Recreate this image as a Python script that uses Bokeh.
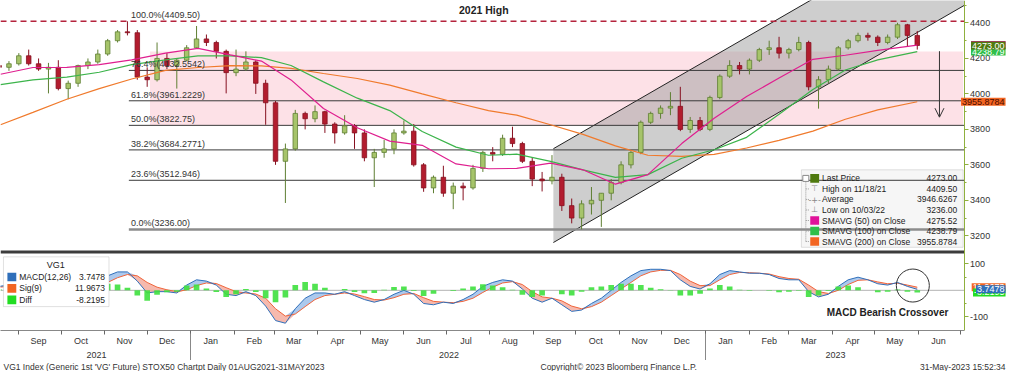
import numpy as np
import pandas as pd
from bokeh.plotting import figure
from bokeh.models import (Range1d, LinearAxis, FixedTicker, Label, Arrow,
                          OpenHead, BoxAnnotation, ColumnDataSource)
from bokeh.layouts import column
from bokeh.embed import file_html
from bokeh.resources import INLINE

# ---------------------------------------------------------------- data
week_start = pd.date_range("2021-08-16", "2023-05-29", freq="7D")   # weekly bars (Mon)

opens = [4160, 4150, 4170, 4215, 4170, 4140, 4150, 4030, 4060, 4160,
         4180, 4225, 4300, 4350, 4345, 4095, 4080, 4200, 4160, 4190,
         4260, 4310, 4290, 4240, 4120, 4140, 4180, 4060, 3950, 3620,
         3690, 3890, 3860, 3900, 3830, 3780, 3820, 3780, 3640, 3670,
         3690, 3780, 3790, 3600, 3470, 3530, 3440, 3480, 3470, 3580,
         3670, 3660, 3750, 3720, 3620, 3520, 3510, 3530, 3370, 3300,
         3380, 3400, 3440, 3500, 3600, 3670, 3840, 3890, 3920, 3930,
         3800, 3850, 3800, 3980, 4100, 4160, 4140, 4190, 4250, 4260,
         4230, 4250, 4290, 4040, 4080, 4140, 4260, 4300, 4330, 4320,
         4290, 4320, 4390, 4330]
highs = [4175, 4185, 4230, 4250, 4200, 4175, 4190, 4075, 4165, 4200,
         4250, 4310, 4360, 4409.5, 4360, 4150, 4290, 4230, 4200, 4275,
         4383, 4335, 4300, 4250, 4250, 4240, 4190, 4080, 3960, 3720,
         3910, 3900, 3935, 3905, 3840, 3880, 3830, 3800, 3690, 3740,
         3800, 3850, 3830, 3610, 3540, 3595, 3500, 3500, 3600, 3680,
         3700, 3770, 3815, 3730, 3640, 3560, 3655, 3550, 3410, 3400,
         3475, 3440, 3520, 3620, 3680, 3850, 3900, 3935, 4010, 4040,
         3870, 3870, 3990, 4110, 4190, 4180, 4200, 4260, 4300, 4322,
         4260, 4322, 4300, 4100, 4160, 4270, 4310, 4345, 4345, 4330,
         4335, 4401, 4395, 4355]
lows = [4120, 4130, 4160, 4160, 4130, 4003, 4020, 3970, 4040, 4140,
        4170, 4215, 4290, 4330, 4080, 4040, 4070, 4140, 4030, 4185,
        4255, 4270, 4200, 4003, 4100, 4130, 4000, 3826, 3600, 3385,
        3680, 3800, 3840, 3780, 3720, 3770, 3690, 3620, 3475, 3640,
        3660, 3770, 3590, 3448, 3440, 3420, 3350, 3400, 3460, 3560,
        3620, 3650, 3700, 3610, 3480, 3450, 3490, 3340, 3270, 3236,
        3320, 3250, 3400, 3490, 3580, 3660, 3830, 3860, 3880, 3790,
        3780, 3790, 3790, 3970, 4090, 4110, 4110, 4180, 4220, 4200,
        4200, 4240, 4020, 3917, 4060, 4130, 4250, 4290, 4300, 4270,
        4280, 4310, 4265, 4250]
closes = [4150, 4170, 4215, 4170, 4140, 4150, 4030, 4060, 4160, 4180,
          4225, 4300, 4350, 4345, 4095, 4080, 4200, 4160, 4190, 4260,
          4310, 4290, 4240, 4120, 4140, 4180, 4060, 3950, 3620, 3690,
          3890, 3860, 3900, 3830, 3780, 3820, 3780, 3640, 3670, 3690,
          3780, 3790, 3600, 3470, 3530, 3440, 3480, 3470, 3580, 3670,
          3660, 3750, 3720, 3620, 3520, 3510, 3530, 3370, 3300, 3380,
          3400, 3440, 3500, 3600, 3670, 3840, 3890, 3920, 3930, 3800,
          3850, 3800, 3980, 4100, 4160, 4140, 4190, 4250, 4260, 4230,
          4250, 4290, 4040, 4080, 4140, 4260, 4300, 4330, 4320, 4290,
          4320, 4390, 4330, 4273]

macd = [15, 20, 30, 25, 10, -15, -25, -30, -5, 15,
        35, 55, 70, 70, 35, -10, -5, -5, -10, 20,
        40, 35, 20, -15, -20, -5, -20, -60, -115, -125,
        -70, -30, -10, -10, -15, -5, -20, -35, -45, -35,
        -15, 0, -15, -50, -55, -45, -50, -35, -15, 15,
        30, 40, 35, 5, -30, -45, -30, -55, -80, -75,
        -50, -30, 0, 30, 55, 75, 80, 80, 75, 40,
        15, 5, 25, 60, 75, 70, 65, 65, 60, 45,
        40, 40, -5, -25, -15, 15, 40, 50, 40, 25,
        20, 30, 15, 3.7478]
signal = [12, 15, 20, 25, 20, 8, -8, -20, -18, -5,
          12, 30, 48, 60, 55, 30, 12, 2, -5, 2,
          18, 28, 26, 10, -5, -10, -14, -30, -70, -98,
          -90, -62, -35, -20, -15, -10, -14, -24, -35, -37,
          -28, -15, -12, -28, -42, -45, -47, -42, -30, -8,
          12, 28, 33, 22, -5, -25, -30, -40, -60, -70,
          -62, -45, -20, 5, 30, 55, 70, 76, 76, 60,
          35, 18, 18, 40, 60, 68, 67, 65, 62, 52,
          45, 42, 20, -5, -12, 0, 22, 38, 40, 32,
          25, 27, 20, 11.9673]

sma_dates = ["2021-08-19", "2021-09-11", "2021-10-05", "2021-10-28", "2021-11-20",
             "2021-12-14", "2022-01-06", "2022-01-29", "2022-02-20", "2022-03-13",
             "2022-04-05", "2022-04-29", "2022-05-22", "2022-06-14", "2022-07-08",
             "2022-07-31", "2022-08-20", "2022-09-13", "2022-10-06", "2022-10-29",
             "2022-11-21", "2022-12-15", "2023-01-07", "2023-01-30", "2023-02-22",
             "2023-03-18", "2023-04-10", "2023-05-03", "2023-05-31"]
sma50 = [4111, 4149, 4150, 4165, 4192, 4230, 4257, 4220, 4185, 4079,
         3918, 3809, 3734, 3710, 3605, 3578, 3580, 3610, 3572, 3491,
         3545, 3720, 3863, 3985, 4090, 4195, 4218, 4246, 4275.52]
sma100 = [4052, 4079, 4095, 4122, 4165, 4192, 4214, 4214, 4205, 4160,
          4068, 3976, 3906, 3788, 3700, 3654, 3660, 3620, 3572, 3529,
          3545, 3637, 3685, 3755, 3885, 4025, 4135, 4192, 4238.79]
sma200 = [3826, 3896, 3970, 4030, 4084, 4133, 4149, 4160, 4158, 4144,
          4115, 4087, 4050, 4000, 3950, 3906, 3880, 3826, 3772, 3707,
          3654, 3648, 3659, 3695, 3738, 3790, 3857, 3910, 3955.8784]

fib_pcts = [1.0, 0.764, 0.618, 0.5, 0.382, 0.236, 0.0]
fib_labels = ["100.0%(4409.50)", "76.4%(4132.5542)", "61.8%(3961.2229)", "50.0%(3822.75)",
              "38.2%(3684.2771)", "23.6%(3512.946)", "0.0%(3236.00)"]
high_date = "2021-11-18"
low_date = "2022-10-03"
avg_price = 3946.6267
month_labels = ["Sep", "Oct", "Nov", "Dec", "Jan", "Feb", "Mar", "Apr", "May", "Jun", "Jul",
                "Aug", "Sep", "Oct", "Nov", "Dec", "Jan", "Feb", "Mar", "Apr", "May", "Jun"]
year_labels = ["2021", "2022", "2023"]
price_ticks = [3200, 3400, 3600, 3800, 4000, 4200, 4400]
macd_ticks = [100, -100]

# annotations drawn by the analyst
band_start, band_top = "2021-12-03", 4239
channel_start, channel_lower0, channel_upper0, channel_slope = "2022-09-15", 3162, 3691, 4.59

# ---------------------------------------------------------------- layout helpers
FONT = "Liberation Sans"
ORIGIN = pd.Timestamp("2021-08-19")
def dday(d):
    return (pd.Timestamp(d) - ORIGIN).days
def rx(px):   # reference pixel -> day offset
    return px / 1.43
def ry(px):   # reference pixel -> price
    return 4400 - (px - 23.5) / 0.1854
def rm(px):   # reference pixel -> macd value
    return (303 - px) / 0.275

XE = rx(977)          # right edge of the drawing area (axis position)
FW, FH = 1008, 330
p = figure(frame_width=FW, frame_height=FH,
           x_range=Range1d(rx(0), rx(1022)), y_range=Range1d(ry(345), ry(0)),
           y_axis_location="right", toolbar_location=None, output_backend="svg",
           min_border_left=0, min_border_top=0, min_border_right=0, min_border_bottom=0,
           outline_line_color=None, background_fill_color="white", border_fill_color="white")
p.extra_y_ranges = {"macd": Range1d(rm(345), rm(0))}
p.xgrid.visible = False
p.ygrid.visible = False

hi = max(highs)
lo = min(lows)
fib_levels = [lo + f * (hi - lo) for f in fib_pcts]

# pink zone
p.add_layout(BoxAnnotation(left=dday(band_start), right=rx(976), top=band_top, bottom=fib_levels[3],
                           fill_color="#fde1e7", fill_alpha=1.0, line_color=None, level="underlay"))

# main legend box (under the lines, as in the original)
p.add_layout(BoxAnnotation(left=rx(812), right=rx(976), top=ry(177), bottom=ry(258),
                           fill_color="#f6f6f6", fill_alpha=1.0, line_color="#9a9a9a",
                           level="underlay"))

# trend channel
cx0, cx1 = dday(channel_start), XE
dy = channel_slope * (cx1 - cx0)
p.patch([cx0, cx0, cx1, cx1],
        [channel_upper0, channel_lower0, channel_lower0 + dy, channel_upper0 + dy],
        fill_color="#9e9e9e", fill_alpha=0.5, line_color=None)
p.line([cx0, cx1], [channel_upper0, channel_upper0 + dy], line_color="#222222", line_width=1)
p.line([cx0, cx1], [channel_lower0, channel_lower0 + dy], line_color="#222222", line_width=1)

# fibonacci levels
fx0 = dday(high_date)
for lev, lbl, pct in zip(fib_levels, fib_labels, fib_pcts):
    if pct == 0.0:
        p.segment(x0=[fx0], y0=[lev], x1=[XE], y1=[lev], line_color="#8c8c8c", line_width=2.5)
    elif pct != 1.0:
        p.segment(x0=[fx0], y0=[lev], x1=[XE], y1=[lev], line_color="#3a3a3a", line_width=1)
    p.add_layout(Label(x=fx0 + 1.5, y=lev + 1.2 / 0.1854, text=lbl, text_font=FONT,
                       text_font_size="9px", text_color="#333333", text_baseline="bottom",
                       text_align="left"))

# candles
wk = np.array([dday(d) for d in week_start]) + 2
o, h, l, c = map(np.array, (opens, highs, lows, closes))
up = c >= o
src = ColumnDataSource(dict(x=wk, h=h, l=l, top=np.maximum(o, c), bot=np.minimum(o, c),
                            fill=np.where(up, "#a6c46a", "#b21c2e"),
                            line=np.where(up, "#5f7f33", "#861020")))
p.segment(x0="x", y0="l", x1="x", y1="h", line_color="line", line_width=1, source=src)
p.vbar(x="x", width=3.2, top="top", bottom="bot", fill_color="fill", line_color="line",
       line_width=0.8, source=src)

# moving averages
sx = [dday(d) for d in sma_dates]
p.line(sx, sma200, line_color="#f07a2c", line_width=1.2)
p.line(sx, sma100, line_color="#3cb44b", line_width=1.2)
p.line(sx, sma50, line_color="#df1f8f", line_width=1.2)

# 2021 high dashed line
p.segment(x0=[rx(0)], y0=[hi], x1=[XE], y1=[hi], line_color="#b4233c", line_dash="6 4",
          line_width=1.6)
p.add_layout(Label(x=rx(490), y=ry(10), text="2021 High", text_font=FONT, text_font_size="10.5px",
                   text_font_style="bold", text_color="#222222", text_align="center",
                   text_baseline="middle"))

# down arrow
p.add_layout(Arrow(end=OpenHead(size=9, line_color="#333333", line_width=1),
                   x_start=rx(952), y_start=ry(53), x_end=rx(952), y_end=ry(122),
                   line_color="#333333", line_width=1))

# panel separator
p.segment(x0=[rx(0)], y0=[ry(263)], x1=[XE], y1=[ry(263)], line_color="#3c3c3c", line_width=3)

# ---------------------------------------------------------------- MACD panel
m = np.array(macd, dtype=float)
s = np.array(signal, dtype=float)
diff = m - s
p.segment(x0=[rx(0)], y0=[0], x1=[XE], y1=[0], line_color="#b4b4b4", line_width=1,
          y_range_name="macd")
p.varea(x=wk, y1=s, y2=np.maximum(m, s), fill_color="#9dc0ea", fill_alpha=0.85, y_range_name="macd")
p.varea(x=wk, y1=np.minimum(m, s), y2=s, fill_color="#f5ad9f", fill_alpha=0.85, y_range_name="macd")
p.line(wk, s, line_color="#f0643a", line_width=1, y_range_name="macd")
p.line(wk, m, line_color="#2f6fba", line_width=1, y_range_name="macd")
p.vbar(x=wk, top=diff, bottom=0, width=4, fill_color="#3ee03e", line_color=None,
       fill_alpha=0.9, y_range_name="macd")

p.scatter(x=[rx(925)], y=[rm(298)], size=33, marker="circle", fill_color=None,
          line_color="#333333", line_width=1, y_range_name="macd")
p.add_layout(Label(x=rx(961), y=rm(326), text="MACD Bearish Crossover", text_font=FONT,
                   text_font_size="10px", text_font_style="bold", text_color="#222222",
                   text_align="right", text_baseline="middle", y_range_name="macd"))

# MACD legend
p.add_layout(BoxAnnotation(left=rx(3), right=rx(110), top=rm(268), bottom=rm(320),
                           fill_color="white", fill_alpha=1.0, line_color="#999999",
                           y_range_name="macd"))
p.add_layout(Label(x=rx(56), y=rm(277), text="VG1", text_font=FONT, text_font_size="9px",
                   text_color="#222222", text_align="center", text_baseline="middle",
                   y_range_name="macd"))
mleg = [("MACD(12,26)", f"{m[-1]:.4f}", "#2f6fba", 289),
        ("Sig(9)", f"{s[-1]:.4f}", "#f26522", 301),
        ("Diff", f"{diff[-1]:.4f}", "#22dd22", 313)]
for name, val, col, yy in mleg:
    p.add_layout(BoxAnnotation(left=rx(7), right=rx(16), top=rm(yy - 4.5), bottom=rm(yy + 4.5),
                               fill_color=col, fill_alpha=1.0, line_color=None, y_range_name="macd"))
    p.add_layout(Label(x=rx(19), y=rm(yy), text=name, text_font=FONT, text_font_size="8.5px",
                       text_color="#222222", text_baseline="middle", y_range_name="macd"))
    p.add_layout(Label(x=rx(106), y=rm(yy), text=val, text_font=FONT, text_font_size="8.5px",
                       text_color="#222222", text_align="right", text_baseline="middle",
                       y_range_name="macd"))

# ---------------------------------------------------------------- main legend
rows = [186, 197, 208, 219, 230, 241, 252]
p.segment(x0=[rx(816.5)], y0=[ry(186)], x1=[rx(816.5)], y1=[ry(252)],
          line_color="#9a9a9a", line_width=1, line_dash="1 1")
for yy in rows[1:]:
    p.segment(x0=[rx(816.5)], y0=[ry(yy)], x1=[rx(820)], y1=[ry(yy)], line_color="#9a9a9a",
              line_width=1, line_dash="1 1")
p.scatter(x=[rx(816.5)], y=[ry(186)], size=6, marker="square", fill_color="white",
          line_color="#8a8a8a")
hd = pd.Timestamp(high_date).strftime("%m/%d/%y")
ld = pd.Timestamp(low_date).strftime("%m/%d/%y")
legend_rows = [("box", "#4f7a0f", "Last Price", f"{closes[-1]:.2f}"),
               ("sym", "\u22a4", f"High on {hd}", f"{hi:.2f}"),
               ("sym", "-+-", "Average", f"{avg_price:.4f}"),
               ("sym", "\u22a5", f"Low on {ld}", f"{lo:.2f}"),
               ("box", "#e0139a", "SMAVG (50)  on Close", f"{sma50[-1]:.2f}"),
               ("box", "#2fbf4a", "SMAVG (100)  on Close", f"{sma100[-1]:.2f}"),
               ("box", "#f26522", "SMAVG (200)  on Close", f"{sma200[-1]:.4f}")]
for (kind, key, name, val), yy in zip(legend_rows, rows):
    if kind == "box":
        p.add_layout(BoxAnnotation(left=rx(821), right=rx(830), top=ry(yy - 4.5), bottom=ry(yy + 4.5),
                                   fill_color=key, fill_alpha=1.0, line_color=None))
    else:
        p.add_layout(Label(x=rx(825.5), y=ry(yy), text=key, text_font="DejaVu Sans",
                           text_font_size="8px", text_color="#888888", text_align="center",
                           text_baseline="middle"))
    p.add_layout(Label(x=rx(833), y=ry(yy), text=name, text_font=FONT, text_font_size="8.5px",
                       text_color="#222222", text_baseline="middle"))
    p.add_layout(Label(x=rx(970), y=ry(yy), text=val, text_font=FONT, text_font_size="8.5px",
                       text_color="#222222", text_align="right", text_baseline="middle"))

# ---------------------------------------------------------------- axes
def m2p(v):
    return int(round(ry(303 - 0.275 * v)))

ya = p.yaxis[0]
ya.fixed_location = XE
macd_pos = [m2p(v) for v in macd_ticks]
ya.ticker = FixedTicker(ticks=price_ticks + macd_pos,
                        minor_ticks=[3300, 3500, 3700, 3900, 4100, 4300, 4500, m2p(50), m2p(-50)])
ya.major_label_overrides = {pos: str(v) for pos, v in zip(macd_pos, macd_ticks)}
ya.axis_line_color = "#8fb03e"
ya.major_tick_line_color = "#8fb03e"
ya.minor_tick_line_color = "#8fb03e"
ya.major_tick_out, ya.major_tick_in = 4, 0
ya.minor_tick_out, ya.minor_tick_in = 2, 0
ya.major_label_text_font = FONT
ya.major_label_text_font_size = "9px"
ya.major_label_text_color = "#333333"
ya.major_label_standoff = 2

# value tags next to the axis
def tag(yv, text, bg, fg, rng="default"):
    p.add_layout(Label(x=rx(1019), y=yv, text=text, text_font=FONT, text_font_size="9px",
                       text_color=fg, background_fill_color=bg, text_align="right",
                       text_baseline="middle", padding=1, y_range_name=rng))

tag(sma50[-1], f"{sma50[-1]:.2f}", "#e0139a", "white")
tag(sma100[-1], f"{sma100[-1]:.2f}", "#2fbf4a", "white")
tag(closes[-1], f"{closes[-1]:.2f}", "#4f7a0f", "white")
tag(sma200[-1], f"{sma200[-1]:.4f}", "#f26522", "#4a0a00")
tag(s[-1], f"{s[-1]:.4f}", "#f26522", "white", "macd")
tag(diff[-1], f"{diff[-1]:.4f}", "#22dd22", "white", "macd")
tag(m[-1], f"{m[-1]:.4f}", "#2f6fba", "white", "macd")

month_start = [dday(d) for d in pd.date_range("2021-09-01", "2023-07-01", freq="MS")]
month_mid = [v + 14 for v in month_start[:-1]]
xa = p.xaxis[0]
xa.bounds = (rx(0), XE)
xa.ticker = FixedTicker(ticks=month_mid, minor_ticks=month_start)
xa.major_label_overrides = dict(zip(month_mid, month_labels))
xa.major_tick_line_color = None
xa.major_tick_out, xa.major_tick_in = 0, 0
xa.minor_tick_line_color = "#666666"
xa.minor_tick_out, xa.minor_tick_in = 4, 0
xa.axis_line_color = "#888888"
xa.major_label_standoff = 1
xa.major_label_text_font = FONT
xa.major_label_text_font_size = "9px"
xa.major_label_text_color = "#333333"

year_start = [dday("2022-01-01"), dday("2023-01-01")]
edges = [rx(0)] + year_start + [XE]
year_mid = [int(round((a + b) / 2)) for a, b in zip(edges[:-1], edges[1:])]
yr = LinearAxis(ticker=FixedTicker(ticks=year_mid, minor_ticks=year_start),
                major_label_overrides=dict(zip(year_mid, year_labels)),
                axis_line_color=None, major_tick_line_color=None,
                major_tick_out=0, major_tick_in=0,
                minor_tick_line_color="#888888", minor_tick_in=15, minor_tick_out=12,
                major_label_standoff=-9, major_label_text_font=FONT,
                major_label_text_font_size="9px", major_label_text_color="#333333")
p.add_layout(yr, "below")

# ---------------------------------------------------------------- footer
f = figure(width=FW, height=11, x_range=Range1d(0, FW), y_range=Range1d(0, 1),
           toolbar_location=None, output_backend="svg", min_border=0,
           outline_line_color=None, x_axis_location=None, y_axis_location=None)
f.xgrid.visible = False
f.ygrid.visible = False
for x, txt, al in [(3, "VG1 Index (Generic 1st 'VG' Future) STOX50 Chartpt  Daily 01AUG2021-31MAY2023", "left"),
                   (540, "Copyright\u00a9 2023 Bloomberg Finance L.P.", "left"),
                   (FW - 3, "31-May-2023 15:52:34", "right")]:
    f.add_layout(Label(x=x, y=0.5, text=txt, text_font=FONT, text_font_size="8.5px",
                       text_color="#333333", text_align=al, text_baseline="middle"))

layout = column(p, f)
open("out.html", "w").write(file_html(layout, INLINE))
